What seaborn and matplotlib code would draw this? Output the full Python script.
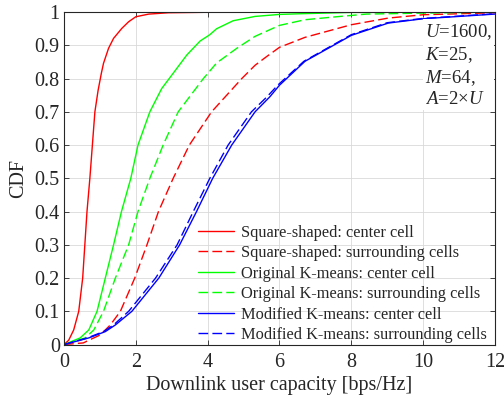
import numpy as np
import pandas as pd
import matplotlib
matplotlib.use("Agg")
import matplotlib.pyplot as plt
import seaborn as sns

# ---- data (x = capacity, y = CDF) ----
sq_center_x = [0, 0.13, 0.27, 0.41, 0.52, 0.58, 0.64, 0.72, 0.79, 0.86, 0.95, 1.04, 1.10, 1.24, 1.38, 1.61, 1.8, 2.0, 2.36, 2.91, 4.38]
sq_center_y = [0, 0.013, 0.044, 0.1, 0.2, 0.3, 0.4, 0.5, 0.6, 0.7, 0.765, 0.816, 0.846, 0.891, 0.921, 0.951, 0.971, 0.986, 0.994, 0.998, 1.0]

sq_surr_x = [0, 0.54, 0.69, 1.01, 1.29, 1.57, 1.97, 2.31, 2.63, 3.04, 3.49, 4.11, 4.95, 5.32, 5.64, 6.0, 6.71, 8.0, 9.03, 10, 12]
sq_surr_y = [0, 0.005, 0.013, 0.029, 0.059, 0.1, 0.2, 0.3, 0.4, 0.5, 0.6, 0.7, 0.8, 0.84, 0.866, 0.894, 0.924, 0.962, 0.982, 0.992, 0.998]

ok_center_x = [0, 0.45, 0.69, 0.92, 1.15, 1.38, 1.6, 1.86, 2.06, 2.39, 2.72, 3.04, 3.42, 3.79, 4.06, 4.25, 4.71, 5.32, 6.0, 6.57, 8.0, 12]
ok_center_y = [0, 0.02, 0.044, 0.1, 0.2, 0.3, 0.4, 0.5, 0.6, 0.7, 0.77, 0.816, 0.871, 0.913, 0.932, 0.95, 0.974, 0.987, 0.993, 0.995, 0.999, 1.0]

ok_surr_x = [0, 0.59, 0.83, 1.1, 1.43, 1.8, 2.06, 2.39, 2.76, 3.18, 3.88, 4.25, 4.81, 5.32, 6.0, 6.71, 7.49, 8.42, 10, 12]
ok_surr_y = [0, 0.02, 0.044, 0.1, 0.2, 0.3, 0.4, 0.5, 0.6, 0.7, 0.8, 0.847, 0.891, 0.927, 0.96, 0.977, 0.985, 0.994, 0.997, 1.0]

mk_center_x = [0, 0.69, 1.15, 1.43, 1.89, 2.64, 3.22, 3.69, 4.14, 4.67, 5.32, 5.73, 6.0, 6.71, 8.0, 9.03, 10, 12]
mk_center_y = [0, 0.02, 0.039, 0.059, 0.1, 0.2, 0.3, 0.4, 0.5, 0.6, 0.7, 0.745, 0.78, 0.852, 0.93, 0.967, 0.98, 0.994]

mk_surr_x = [0, 0.65, 1.1, 1.38, 1.8, 2.55, 3.15, 3.6, 4.06, 4.57, 5.22, 5.65, 5.95, 6.68, 8.0, 9.0, 10, 12]
mk_surr_y = [0, 0.02, 0.039, 0.059, 0.1, 0.2, 0.3, 0.4, 0.5, 0.6, 0.7, 0.745, 0.78, 0.852, 0.932, 0.968, 0.981, 0.995]

labels = ["Square-shaped: center cell", "Square-shaped: surrounding cells",
          "Original K-means: center cell", "Original K-means: surrounding cells",
          "Modified K-means: center cell", "Modified K-means: surrounding cells"]

x_ticks = [0, 2, 4, 6, 8, 10, 12]
y_ticks = [0, 0.1, 0.2, 0.3, 0.4, 0.5, 0.6, 0.7, 0.8, 0.9, 1]
y_ticklabels = ["0", "0.1", "0.2", "0.3", "0.4", "0.5", "0.6", "0.7", "0.8", "0.9", "1"]

series = [
    (sq_center_x, sq_center_y, "#ff0000", "-"),
    (sq_surr_x, sq_surr_y, "#ff0000", (0, (7, 3))),
    (ok_center_x, ok_center_y, "#00ff00", "-"),
    (ok_surr_x, ok_surr_y, "#00ff00", (0, (7, 3))),
    (mk_center_x, mk_center_y, "#0000ff", "-"),
    (mk_surr_x, mk_surr_y, "#0000ff", (0, (7, 3))),
]

sns.set_theme(style="white")
plt.rcParams["font.family"] = ["Liberation Serif", "DejaVu Serif"]
plt.rcParams["mathtext.fontset"] = "custom"
plt.rcParams["mathtext.rm"] = "Liberation Serif"
plt.rcParams["mathtext.it"] = "Liberation Serif:italic"

fig = plt.figure(figsize=(5.04, 4.03), dpi=100)
ax = fig.add_axes([0.127, 0.145, 0.855, 0.825])

for (xs, ys, col, ls), lab in zip(series, labels):
    df = pd.DataFrame({"x": xs, "y": ys})
    sns.lineplot(data=df, x="x", y="y", ax=ax, color=col, linestyle=ls,
                 linewidth=1.0, label=lab, sort=False, estimator=None)

ax.set_xlim(0, 12)
ax.set_ylim(0, 1)
ax.set_xticks(x_ticks)
ax.set_yticks(y_ticks)
ax.set_yticklabels(y_ticklabels)
ax.grid(True, color="#d9d9d9", linewidth=0.6)
ax.set_axisbelow(True)

tc = "#262626"
for s in ax.spines.values():
    s.set_visible(True)
    s.set_color(tc)
    s.set_linewidth(0.8)
ax.tick_params(direction="in", length=3.5, width=0.6, colors=tc, labelsize=14.5,
               top=True, right=True, bottom=True, left=True)
ax.tick_params(axis="x", pad=6)
ax.tick_params(axis="y", pad=3)

ax.set_xlabel("Downlink user capacity [bps/Hz]", fontsize=14.5, color=tc, labelpad=3)
ax.set_ylabel("CDF", fontsize=14.5, color=tc, labelpad=5)

leg = ax.legend(loc="lower left", bbox_to_anchor=(0.308, 0.0), frameon=False,
                fontsize=11.8, handlelength=2.2, handletextpad=0.4,
                labelspacing=0.27, borderpad=0.1, borderaxespad=0.0)
for t in leg.get_texts():
    t.set_color(tc)

ax.text(10.05, 0.97, "$U$=1600,\n$K$=25,\n$M$=64,\n$A$=2×$U$", ha="left", va="top",
        fontsize=13.5, color=tc, linespacing=1.22,
        bbox=dict(facecolor="white", edgecolor="none", pad=1.5), zorder=5)

fig.savefig("out.png", dpi=100)
